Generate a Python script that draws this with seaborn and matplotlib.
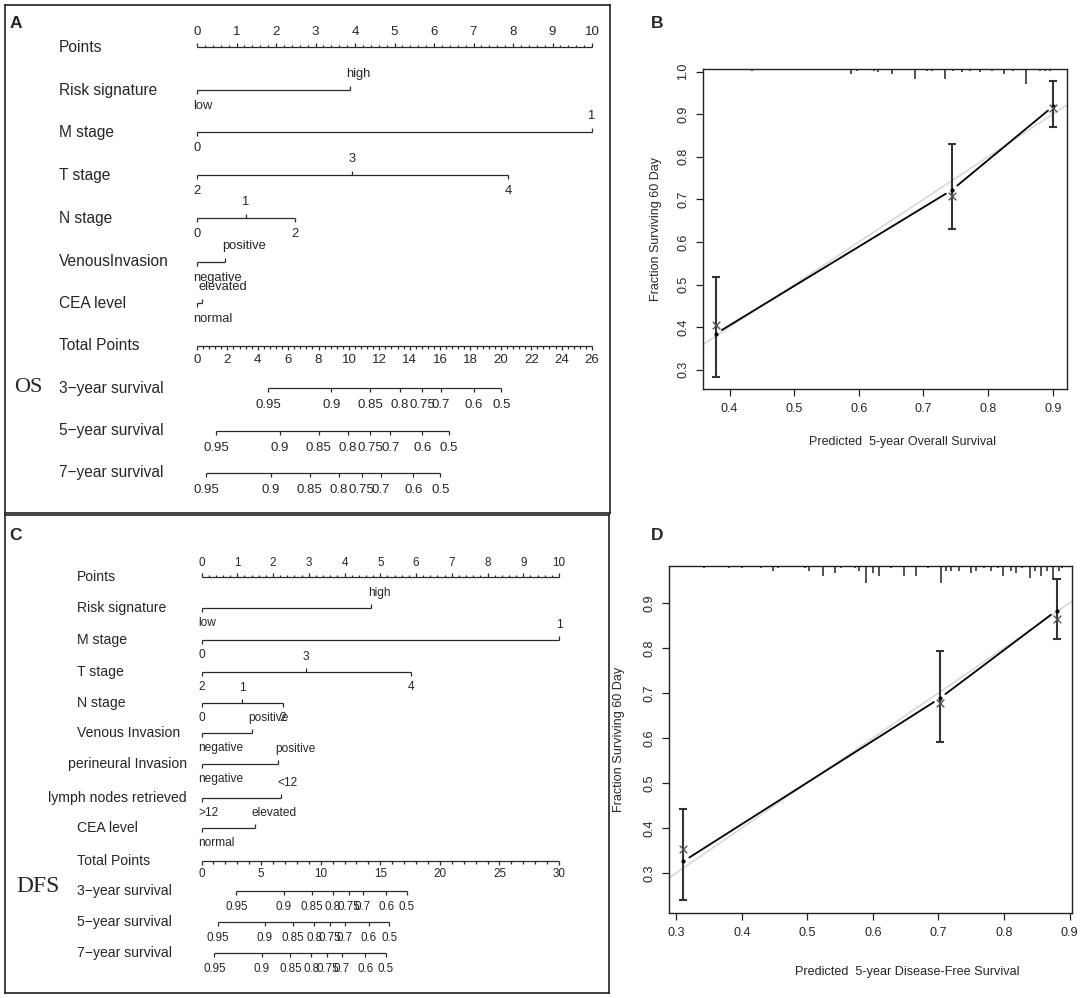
import numpy as np
import matplotlib
matplotlib.use('Agg')
import matplotlib.pyplot as plt
import seaborn as sns

sns.set_style("ticks")
plt.rcParams['font.family'] = ['Liberation Sans', 'DejaVu Sans']

# ---------------- panel A : OS nomogram ----------------
a_var_names = ["Risk signature", "M stage", "T stage", "N stage", "VenousInvasion", "CEA level"]
a_var_levels = [["low", "high"], ["0", "1"], ["2", "3", "4"], ["0", "1", "2"],
                ["negative", "positive"], ["normal", "elevated"]]
a_var_points = [[0, 3.87], [0, 10], [0, 3.92, 7.87], [0, 1.24, 2.47], [0, 0.72], [0, 0.12]]
a_total_max = 26
surv_names = ["3\u2212year survival", "5\u2212year survival", "7\u2212year survival"]
surv_labels = ["0.95", "0.9", "0.85", "0.8", "0.75", "0.7", "0.6", "0.5"]
a_surv_total = [[4.68, 8.85, 11.38, 13.33, 14.84, 16.06, 18.20, 20.04],
                [1.28, 5.47, 8.02, 9.94, 11.40, 12.73, 14.84, 16.58],
                [0.62, 4.87, 7.42, 9.32, 10.83, 12.08, 14.24, 16.01]]

# ---------------- panel C : DFS nomogram ----------------
c_var_names = ["Risk signature", "M stage", "T stage", "N stage", "Venous Invasion",
               "perineural Invasion", "lymph nodes retrieved", "CEA level"]
c_var_levels = [["low", "high"], ["0", "1"], ["2", "3", "4"], ["0", "1", "2"],
                ["negative", "positive"], ["negative", "positive"], [">12", "<12"],
                ["normal", "elevated"]]
c_var_points = [[0, 4.75], [0, 10], [0, 2.91, 5.86], [0, 1.13, 2.27], [0, 1.41],
                [0, 2.15], [0, 2.23], [0, 1.49]]
c_total_max = 30
c_surv_total = [[2.92, 6.89, 9.28, 11.04, 12.36, 13.52, 15.51, 17.24],
                [1.36, 5.30, 7.69, 9.45, 10.80, 12.03, 14.02, 15.74],
                [1.09, 5.04, 7.46, 9.21, 10.57, 11.77, 13.76, 15.45]]

# ---------------- panel B : OS calibration ----------------
b_pred = np.array([0.379, 0.744, 0.901])
b_corr = np.array([0.406, 0.708, 0.914])
b_km = np.array([0.385, 0.722, 0.919])
b_lo = np.array([0.282, 0.630, 0.869])
b_hi = np.array([0.518, 0.830, 0.979])
b_rug_x = [0.435, 0.588, 0.597, 0.623, 0.630, 0.651, 0.687, 0.705, 0.713, 0.733, 0.746,
           0.759, 0.772, 0.788, 0.806, 0.824, 0.839, 0.859, 0.880, 0.888, 0.896]
b_rug_n = [1, 3, 1, 1, 2, 3, 6, 1, 1, 6, 1, 2, 1, 2, 1, 3, 1, 9, 1, 1, 1]

# ---------------- panel D : DFS calibration ----------------
d_pred = np.array([0.311, 0.702, 0.880])
d_corr = np.array([0.353, 0.678, 0.865])
d_km = np.array([0.326, 0.688, 0.883])
d_lo = np.array([0.239, 0.590, 0.819])
d_hi = np.array([0.443, 0.794, 0.954])
d_rug_x = [0.343, 0.381, 0.400, 0.430, 0.447, 0.455, 0.496, 0.503, 0.524, 0.542, 0.552,
           0.572, 0.578, 0.590, 0.600, 0.610, 0.628, 0.647, 0.666, 0.684, 0.704, 0.712,
           0.719, 0.732, 0.750, 0.757, 0.770, 0.780, 0.790, 0.799, 0.811, 0.818, 0.828,
           0.839, 0.847, 0.856, 0.866, 0.874, 0.884, 0.889]
d_rug_n = [1, 1, 1, 1, 2, 1, 1, 2, 4, 3, 1, 1, 2, 7, 3, 4, 1, 4, 4, 1, 7, 2, 2, 2, 3, 2,
           1, 2, 1, 4, 2, 3, 1, 5, 2, 4, 2, 6, 2, 1]

W, H = 1084, 998
LINE = '#2a2a2a'
fig = plt.figure(figsize=(W / 100, H / 100), dpi=100)


def px_axes(x0, y0, x1, y1):
    return fig.add_axes([x0 / W, 1 - y1 / H, (x1 - x0) / W, (y1 - y0) / H])


def draw_nomo(box, x0px, x10px, rows, lab_px, names, levels, pts, tot_max, tot_step,
              tot_minor, surv_pos, fs_row, fs_tick, fs_lv, off, right_px=None):
    ax = px_axes(*box)
    ppu = (x10px - x0px) / 10.0
    ax.set_xlim((box[0] - x0px) / ppu, (box[2] - x0px) / ppu)
    ax.set_ylim(box[3], box[1])
    ax.set_xticks([])
    ax.set_yticks([])
    for s in ax.spines.values():
        s.set_linewidth(1.2)
        s.set_color('#222222')
    lx = (lab_px - x0px) / ppu
    kw = dict(color=LINE, lw=0.9, solid_capstyle='butt')

    def row_label(y, name):
        if right_px is not None and len(name) > 16:
            ax.text((right_px - x0px) / ppu, y, name, ha='right', va='center', fontsize=fs_row)
        else:
            ax.text(lx, y, name, ha='left', va='center', fontsize=fs_row)

    # Points axis
    y = rows[0]
    row_label(y, "Points")
    ax.plot([0, 10], [y, y], **kw)
    for v in np.arange(0, 10.001, 0.2):
        major = abs(v - round(v)) < 1e-6
        ax.plot([v, v], [y, y - (4 if major else 2.5)], **kw)
        if major:
            ax.text(v, y - off[0], str(int(round(v))), ha='center', va='center', fontsize=fs_tick)

    # variables
    for i, (name, lv, pp) in enumerate(zip(names, levels, pts)):
        y = rows[i + 1]
        row_label(y, name)
        ax.plot([min(pp), max(pp)], [y, y], **kw)
        for j, (lab, p) in enumerate(zip(lv, pp)):
            side = 1 if j % 2 == 0 else -1
            ax.plot([p, p], [y, y + side * 4], **kw)
            if lab.isdigit():
                ax.text(p, y + side * off[1], lab, ha='center', va='center', fontsize=fs_lv)
            else:
                ax.text(p - 3.5 / ppu, y + side * off[1], lab, ha='left', va='center', fontsize=fs_lv)

    # Total points axis
    k = 10.0 / tot_max
    y = rows[len(names) + 1]
    row_label(y, "Total Points")
    ax.plot([0, 10], [y, y], **kw)
    for v in np.arange(0, tot_max + 0.001, tot_minor):
        major = abs(v / tot_step - round(v / tot_step)) < 1e-6
        ax.plot([v * k, v * k], [y, y + (4 if major else 2.5)], **kw)
        if major:
            ax.text(v * k, y + off[2], str(int(round(v))), ha='center', va='center', fontsize=fs_tick)

    # survival axes
    for i, (name, pos) in enumerate(zip(surv_names, surv_pos)):
        y = rows[len(names) + 2 + i]
        row_label(y, name)
        xs = np.array(pos) * k
        ax.plot([xs.min(), xs.max()], [y, y], **kw)
        for x, lab in zip(xs, surv_labels):
            ax.plot([x, x], [y, y + 4], **kw)
            ax.text(x, y + off[3], lab, ha='center', va='center', fontsize=fs_tick)
    return ax


def draw_cal(box, pred, corr, km, lo, hi, rug_x, rug_n, xlim, ylim, xticks, yticks,
             xlabel, xlab_pos, ylab_x, fs, unit_px):
    ax = px_axes(*box)
    ax.set_xlim(xlim)
    ax.set_ylim(ylim)
    sns.lineplot(x=[xlim[0], xlim[1]], y=[xlim[0], xlim[1]], color='#d6d6d6', lw=1.1,
                 ax=ax, zorder=1)
    tr = ax.transData
    p = tr.transform(np.column_stack([pred, km]))
    gap = 7
    for a, b in zip(p[:-1], p[1:]):
        u = (b - a) / np.hypot(*(b - a))
        seg = tr.inverted().transform(np.array([a + u * gap, b - u * gap]))
        sns.lineplot(x=seg[:, 0], y=seg[:, 1], color='black', lw=1.3, ax=ax, zorder=3)
    ax.plot(pred, km, 'o', ms=2, color='black', zorder=3)
    ax.errorbar(pred, km, yerr=[km - lo, hi - km], fmt='none', ecolor='#333333',
                elinewidth=1.5, capsize=2.6, capthick=1.5, zorder=2)
    sns.scatterplot(x=pred, y=corr, marker='x', color='#555555', s=30, linewidth=1,
                    ax=ax, zorder=4)
    hpx = (box[3] - box[1])
    unit = unit_px * (ylim[1] - ylim[0]) / hpx
    ax.vlines(rug_x, ylim[1] - np.array(rug_n) * unit, ylim[1], color='#222222', lw=1.1)
    ax.set_xticks(xticks, labels=[f"{v:.1f}" for v in xticks])
    ax.set_yticks(yticks, labels=[f"{v:.1f}" for v in yticks], rotation=90, va='center')
    ax.tick_params(axis='both', direction='out', length=5, width=0.9, color='#222222',
                   labelsize=fs, pad=5)
    for s in ax.spines.values():
        s.set_linewidth(1.0)
        s.set_color('#222222')
    ax.set_xlabel(xlabel, fontsize=fs)
    ax.set_ylabel("Fraction Surviving 60 Day", fontsize=fs)
    ax.xaxis.set_label_coords(*xlab_pos)
    ax.yaxis.set_label_coords(ylab_x, 0.5)
    return ax


# A
draw_nomo((5, 5, 610, 513), 197, 592, [47, 90, 132, 175, 218, 262, 303, 346, 388, 431, 473],
          59, a_var_names, a_var_levels, a_var_points, a_total_max, 2, 0.4, a_surv_total,
          11.2, 9.5, 9.3, (15, 16, 14, 17))
# C
draw_nomo((5, 515, 609, 993), 201.5, 559,
          [577, 608, 640, 672, 703, 733, 764, 798, 828, 861, 891, 922, 953],
          77, c_var_names, c_var_levels, c_var_points, c_total_max, 5, 1, c_surv_total,
          10.1, 8.4, 8.6, (14, 15, 13, 16), right_px=187)

# B
draw_cal((703, 69, 1067, 389), b_pred, b_corr, b_km, b_lo, b_hi, b_rug_x, b_rug_n,
         (0.359, 0.922), (0.255, 1.006), [0.4, 0.5, 0.6, 0.7, 0.8, 0.9],
         [0.3, 0.4, 0.5, 0.6, 0.7, 0.8, 0.9, 1.0],
         "Predicted  5-year Overall Survival", (0.547, -0.147), -0.113, 9.0, 1.7)
# D
draw_cal((669, 566, 1072, 913), d_pred, d_corr, d_km, d_lo, d_hi, d_rug_x, d_rug_n,
         (0.289, 0.9036), (0.211, 0.982), [0.3, 0.4, 0.5, 0.6, 0.7, 0.8, 0.9],
         [0.3, 0.4, 0.5, 0.6, 0.7, 0.8, 0.9],
         "Predicted  5-year Disease-Free Survival", (0.592, -0.152), -0.11, 9.1, 2.4)

# panel letters and model tags
for lab, x, y in [("A", 16, 23), ("B", 657, 23), ("C", 16, 535), ("D", 657, 535)]:
    fig.text(x / W, 1 - y / H, lab, ha='center', va='center', fontsize=12.5, fontweight='bold')
fig.text(14 / W, 1 - 387 / H, "OS", ha='left', va='center', fontsize=16,
         family=['Liberation Serif', 'DejaVu Serif'])
fig.text(16 / W, 1 - 886 / H, "DFS", ha='left', va='center', fontsize=17,
         family=['Liberation Serif', 'DejaVu Serif'])

fig.savefig('out.png', dpi=100)
